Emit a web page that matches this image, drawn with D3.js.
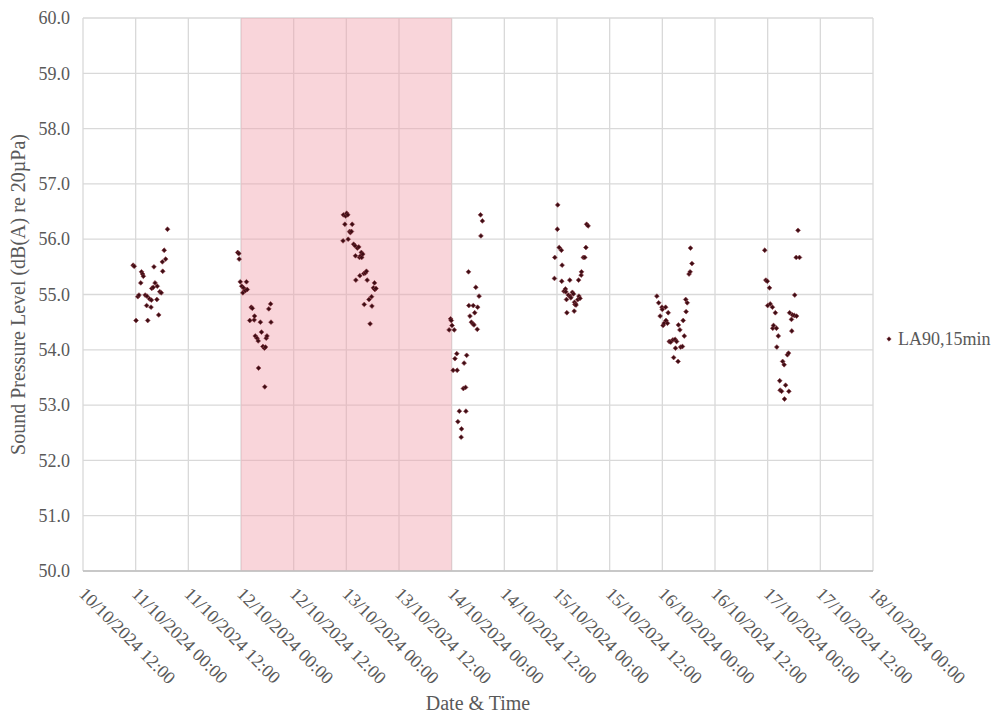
<!DOCTYPE html>
<html>
<head>
<meta charset="utf-8">
<script src="https://cdn.jsdelivr.net/npm/d3@7"></script>
<style>
  html, body { margin: 0; padding: 0; background: #ffffff; }
  svg { display: block; }
  text { font-family: "Liberation Serif", "Times New Roman", serif; fill: #595959; }
</style>
</head>
<body>
<svg id="chart" width="995" height="716"></svg>
<script>
// LA90 (15 min) night-time measurements, one pair of arrays per night.
// Times at or after 12:00 belong to the evening before the listed morning.
const nightMornings = ["2024-10-11", "2024-10-12", "2024-10-13", "2024-10-14", "2024-10-15", "2024-10-16", "2024-10-17"];

const night1Times = ["23:25","23:40","00:05","00:30","00:45","01:10","01:20","01:35","01:45","02:10","02:30","02:35","02:45","03:10","03:30","03:35","03:40","04:00","04:10","04:25","04:50","04:55","05:15","05:30","05:50","06:05","06:10","06:30","06:50","07:15"];
const night1Values = [55.53,55.51,54.53,54.96,54.99,55.21,55.41,55.37,55.33,54.99,54.80,54.97,54.53,54.92,54.77,54.90,55.11,55.13,55.50,55.21,54.91,55.15,54.63,55.05,55.03,55.59,55.42,55.80,55.64,56.18];

const night2Times = ["23:15","23:30","23:35","23:50","00:10","00:25","00:35","00:55","01:00","01:15","01:25","02:00","02:20","02:35","03:00","03:05","03:15","03:40","03:55","04:00","04:25","04:40","05:00","05:20","05:25","05:35","05:45","05:55","06:20","06:45","06:50"];
const night2Values = [55.76,55.74,55.64,55.23,55.15,55.03,55.12,55.08,55.07,55.23,55.09,54.53,54.77,54.75,54.54,54.61,54.25,54.21,54.16,53.67,54.50,54.32,54.06,54.03,53.33,54.05,54.21,54.25,54.74,54.83,54.50];

const night3Times = ["23:15","23:20","23:40","23:50","00:05","00:20","00:25","00:45","00:55","01:10","01:20","01:40","02:00","02:05","02:10","02:30","02:50","03:00","03:05","03:15","03:25","03:30","03:45","04:00","04:05","04:20","04:35","04:45","05:10","05:25","05:45","05:50","06:10","06:25","06:30","06:45"];
const night3Values = [55.97,56.44,56.27,56.42,56.47,56.44,56.00,56.14,56.12,56.14,56.27,55.91,55.88,55.70,55.26,55.84,55.86,55.67,55.34,55.70,55.76,55.67,55.73,55.38,54.82,55.39,55.42,55.26,54.91,54.47,54.96,54.79,55.12,55.21,55.09,55.11];

const night4Times = ["23:25","23:45","23:55","00:05","00:20","00:35","00:45","01:10","01:15","01:25","01:45","02:10","02:15","02:40","02:50","03:10","03:15","03:25","03:50","03:55","04:10","04:30","04:50","04:55","05:05","05:15","05:30","05:50","05:55","06:15","06:35","06:40","07:00"];
const night4Values = [54.36,54.56,54.53,54.44,53.63,54.36,53.84,53.93,53.63,52.70,52.89,52.42,52.57,53.30,53.76,53.32,52.89,53.90,55.41,54.80,54.61,54.50,54.47,54.80,54.45,54.67,55.13,54.37,54.77,54.97,56.44,56.06,56.33];

const night5Times = ["23:25","23:30","00:05","00:10","00:30","01:00","01:05","01:10","01:35","01:55","02:00","02:10","02:15","02:35","02:55","03:00","03:10","03:30","03:45","03:55","04:00","04:05","04:15","04:20","04:45","04:55","05:00","05:15","05:30","05:35","06:00","06:20","06:35","06:45","07:05"];
const night5Values = [55.29,55.67,56.18,56.62,55.85,55.80,55.24,55.53,55.06,55.10,55.05,54.91,54.67,54.99,55.26,54.97,54.94,55.04,55.01,54.70,54.86,54.82,54.83,54.81,54.91,55.26,54.97,54.93,55.35,55.41,55.67,55.67,55.85,56.27,56.24];

const night6Times = ["22:45","23:10","23:30","23:55","00:00","00:10","00:25","00:45","00:50","01:10","01:20","01:35","01:55","02:25","02:35","02:55","03:00","03:15","03:35","03:40","04:00","04:10","04:35","04:45","05:00","05:20","05:25","05:40","06:05","06:20","06:25","06:45"];
const night6Values = [54.97,54.85,54.61,54.77,54.73,54.44,54.48,54.77,54.53,54.48,54.67,54.15,54.14,54.18,53.86,54.19,54.03,54.15,53.79,54.45,54.36,54.05,54.06,54.53,54.25,54.91,54.69,54.85,55.37,55.41,55.84,55.56];

const night7Times = ["23:20","23:35","23:55","00:00","00:25","00:35","01:05","01:10","01:20","01:45","02:00","02:05","02:25","02:45","02:50","03:10","03:25","03:45","03:50","04:05","04:30","04:45","04:50","05:00","05:25","05:30","05:40","06:05","06:10","06:30","06:35","06:55","07:15"];
const night7Values = [55.80,55.26,55.24,54.80,55.12,54.83,54.77,54.39,54.44,54.67,54.39,54.05,54.25,53.44,53.27,53.25,53.79,53.73,53.11,53.36,53.91,53.94,53.25,54.67,54.55,54.34,54.63,54.62,54.99,55.67,54.61,56.16,55.67];

// Shaded period (weekend) and axis labels
const shadedPeriod = ["12/10/2024 00:00", "14/10/2024 00:00"];
const xTickLabels = ["10/10/2024 12:00","11/10/2024 00:00","11/10/2024 12:00","12/10/2024 00:00","12/10/2024 12:00","13/10/2024 00:00","13/10/2024 12:00","14/10/2024 00:00","14/10/2024 12:00","15/10/2024 00:00","15/10/2024 12:00","16/10/2024 00:00","16/10/2024 12:00","17/10/2024 00:00","17/10/2024 12:00","18/10/2024 00:00"];
const yTickValues = [50, 51, 52, 53, 54, 55, 56, 57, 58, 59, 60];
const seriesName = "LA90,15min";
const xTitle = "Date & Time";
const yTitle = "Sound Pressure Level (dB(A) re 20µPa)";

const nightTimes = [night1Times, night2Times, night3Times, night4Times, night5Times, night6Times, night7Times];
const nightValues = [night1Values, night2Values, night3Values, night4Values, night5Values, night6Values, night7Values];

const parseLabel = d3.timeParse("%d/%m/%Y %H:%M");
const parseDay = d3.timeParse("%Y-%m-%d");

const points = [];
nightMornings.forEach((morning, i) => {
  const day = parseDay(morning);
  nightTimes[i].forEach((t, j) => {
    const [hh, mm] = t.split(":").map(Number);
    const base = hh >= 12 ? d3.timeDay.offset(day, -1) : day;
    const date = new Date(base.getFullYear(), base.getMonth(), base.getDate(), hh, mm);
    points.push({ date, value: nightValues[i][j] });
  });
});

const svg = d3.select("#chart");
const plot = { left: 83, right: 873, top: 18, bottom: 571 };

const xTicks = xTickLabels.map(parseLabel);
const x = d3.scaleTime()
  .domain([xTicks[0], xTicks[xTicks.length - 1]])
  .range([plot.left, plot.right]);
const y = d3.scaleLinear()
  .domain([50, 60])
  .range([plot.bottom, plot.top]);

// Gridlines
const grid = svg.append("g");
grid.selectAll("line.h").data(yTickValues).join("line")
  .attr("x1", plot.left).attr("x2", plot.right)
  .attr("y1", d => y(d)).attr("y2", d => y(d))
  .attr("stroke", "#d9d9d9").attr("stroke-width", 1.3);
grid.selectAll("line.v").data(xTicks).join("line")
  .attr("x1", d => x(d)).attr("x2", d => x(d))
  .attr("y1", plot.top).attr("y2", plot.bottom)
  .attr("stroke", "#d9d9d9").attr("stroke-width", 1.3);

// Shaded period
const s0 = parseLabel(shadedPeriod[0]), s1 = parseLabel(shadedPeriod[1]);
svg.append("rect")
  .attr("x", x(s0)).attr("y", plot.top)
  .attr("width", x(s1) - x(s0)).attr("height", plot.bottom - plot.top)
  .attr("fill", "#f2a2ad").attr("fill-opacity", 0.45);

// Bottom axis line
svg.append("line")
  .attr("x1", plot.left).attr("x2", plot.right)
  .attr("y1", plot.bottom).attr("y2", plot.bottom)
  .attr("stroke", "#bfbfbf").attr("stroke-width", 1.3);

// Y axis labels
const yAxis = d3.axisLeft(y).tickValues(yTickValues).tickFormat(d3.format(".1f")).tickSize(0).tickPadding(13);
const gy = svg.append("g").attr("transform", `translate(${plot.left},0)`).call(yAxis);
gy.select(".domain").remove();
gy.selectAll("text").style("font-size", "18px").attr("fill", "#595959")
  .style("font-family", "'Liberation Serif', 'Times New Roman', serif");

// X axis labels, rotated
svg.append("g").selectAll("text").data(xTicks).join("text")
  .attr("transform", d => `translate(${x(d) - 5},${plot.bottom + 24}) rotate(45)`)
  .attr("text-anchor", "start")
  .style("font-size", "18px")
  .text((d, i) => xTickLabels[i]);

// Axis titles
svg.append("text")
  .attr("x", 478).attr("y", 710)
  .attr("text-anchor", "middle").style("font-size", "20px")
  .text(xTitle);
svg.append("text")
  .attr("transform", `translate(25,${(plot.top + plot.bottom) / 2}) rotate(-90)`)
  .attr("text-anchor", "middle").style("font-size", "20px")
  .text(yTitle);

// Markers
const diamond = r => `M0,${-r}L${r},0L0,${r}L${-r},0Z`;
svg.append("g").selectAll("path").data(points).join("path")
  .attr("transform", d => `translate(${x(d.date)},${y(d.value)})`)
  .attr("d", diamond(2.4))
  .attr("fill", "#3e0d14")
  .attr("stroke", "#8c3a44").attr("stroke-width", 0.6);

// Legend
svg.append("path")
  .attr("transform", "translate(889,339)")
  .attr("d", diamond(2.2))
  .attr("fill", "#3e0d14").attr("stroke", "#8c3a44").attr("stroke-width", 0.6);
svg.append("text")
  .attr("x", 898).attr("y", 345)
  .style("font-size", "18px")
  .text(seriesName);
</script>
</body>
</html>
